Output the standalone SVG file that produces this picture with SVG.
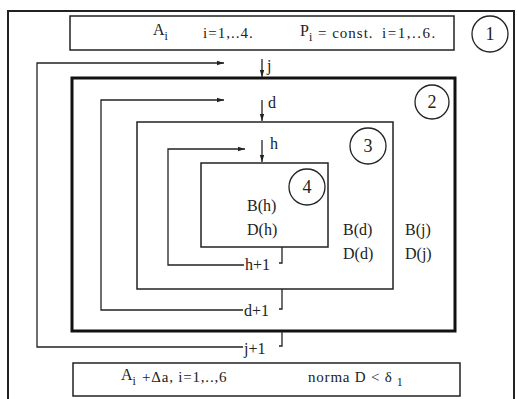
<svg xmlns="http://www.w3.org/2000/svg" width="517" height="399" viewBox="0 0 517 399">
<style>
.t{font-family:"Liberation Serif",serif;font-size:16px;fill:#222}
.s{font-size:12px}
.m{font-size:15px}
.thin{fill:none;stroke:#222;stroke-width:1.5}
.thick{fill:none;stroke:#111;stroke-width:3}
.ln{fill:none;stroke:#222;stroke-width:1.3}
.c{fill:none;stroke:#222;stroke-width:1.3}
</style>
<defs>
<marker id="ah" markerWidth="8" markerHeight="6" refX="7" refY="3" orient="auto" markerUnits="userSpaceOnUse">
<path d="M0,0.8 L7,3 L0,5.2 Z" fill="#222"/>
</marker>
</defs>
<rect width="517" height="399" fill="#fff"/>
<g id="frame">
<path class="thin" d="M8,399 V11 H514 V399" style="stroke-width:2"/>
</g>
<g id="node1">
<rect class="thin" x="70" y="16" width="384" height="34"/>
<text class="t" x="153" y="35">A<tspan class="s" dy="5">i</tspan></text>
<text class="t m" x="203" y="38" letter-spacing="1">i=1,..4.</text>
<text class="t" x="300" y="36">P<tspan class="s" dy="5">i</tspan></text>
<text class="t m" x="318" y="38" letter-spacing="1">= const.</text>
<text class="t m" x="382" y="38" letter-spacing="1.5">i=1,..6.</text>
<circle class="c" cx="490" cy="34" r="18"/>
<text class="t" x="490" y="40" text-anchor="middle" style="font-size:18px">1</text>
</g>
<g id="node2">
<rect class="thick" x="72" y="78" width="383" height="253"/>
<circle class="c" cx="432" cy="102" r="17"/>
<text class="t" x="432" y="108" text-anchor="middle" style="font-size:18px">2</text>
<text class="t" x="405" y="235">B(j)</text>
<text class="t" x="405" y="259">D(j)</text>
</g>
<g id="node3">
<rect class="thin" x="137" y="122" width="256" height="167"/>
<circle class="c" cx="368" cy="146" r="18"/>
<text class="t" x="368" y="152" text-anchor="middle" style="font-size:18px">3</text>
<text class="t" x="343" y="235">B(d)</text>
<text class="t" x="343" y="259">D(d)</text>
</g>
<g id="node4">
<rect class="thin" x="201" y="163" width="127" height="84"/>
<circle class="c" cx="307" cy="187" r="18"/>
<text class="t" x="307" y="193" text-anchor="middle" style="font-size:18px">4</text>
<text class="t" x="247" y="211">B(h)</text>
<text class="t" x="247" y="235">D(h)</text>
</g>
<g id="node5">
<rect class="thin" x="73" y="363" width="387" height="33"/>
<text class="t" x="121" y="380">A<tspan class="s" dy="5">i</tspan></text>
<text class="t m" x="142" y="382" letter-spacing="0.8">+Δa, i=1,..,6</text>
<text class="t m" x="308" y="382" letter-spacing="0.8">norma D &lt; δ<tspan class="s" dy="4" dx="4">1</tspan></text>
</g>
<g id="connectors">
<path class="ln" d="M243,347 H37 V63 H224" marker-end="url(#ah)"/>
<path class="ln" d="M262,59 V77" marker-end="url(#ah)"/>
<path class="ln" d="M282,331 V346 H279"/>
<text class="t" x="244" y="354">j+1</text>
<text class="t" x="267" y="71">j</text>
<path class="ln" d="M243,310 H101 V100 H224" marker-end="url(#ah)"/>
<path class="ln" d="M262,100 V121" marker-end="url(#ah)"/>
<path class="ln" d="M282,289 V309 H279"/>
<text class="t" x="244" y="316">d+1</text>
<text class="t" x="268" y="108">d</text>
<path class="ln" d="M244,265 H168 V149 H245" marker-end="url(#ah)"/>
<path class="ln" d="M262,140 V162" marker-end="url(#ah)"/>
<path class="ln" d="M282,247 V263 H279"/>
<text class="t" x="245" y="270">h+1</text>
<text class="t" x="270" y="149">h</text>
</g>
</svg>
